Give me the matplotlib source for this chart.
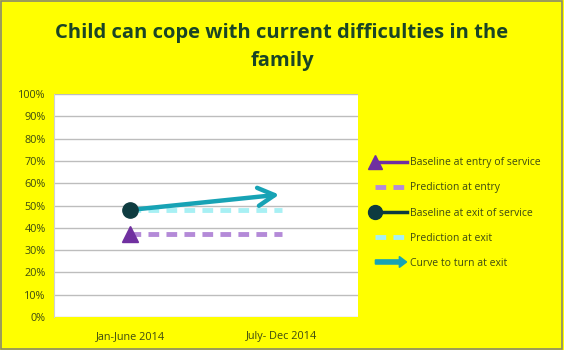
import matplotlib.pyplot as plt
from matplotlib.lines import Line2D
from matplotlib.patches import FancyArrow
from matplotlib.legend_handler import HandlerPatch
from matplotlib.ticker import PercentFormatter

categories = ['Jan-June 2014', 'July- Dec 2014']
baseline_entry = [0.37]
prediction_entry = [0.37, 0.37]
baseline_exit = [0.48]
prediction_exit = [0.48, 0.48]
curve_exit = [0.48, 0.55]

yellow = '#ffff00'
text_green = '#3d4a12'
title_green = '#1a4526'
c_entry = '#7030a0'
c_pred_entry = '#b48ad8'
c_exit = '#0e3b40'
c_pred_exit = '#a8f0f4'
c_curve = '#17a3b5'

plt.rcParams['font.family'] = ['Open Sans', 'DejaVu Sans']

fig = plt.figure(figsize=(5.64, 3.5), dpi=100, facecolor=yellow)
fig.patches.append(plt.Rectangle((0.002, 0.003), 0.995, 0.994, transform=fig.transFigure,
                                 fill=False, edgecolor='#8a8a6a', lw=1.2))
ax = fig.add_axes([54 / 564, 1 - 317 / 350, 304 / 564, 223 / 350])
ax.set_facecolor('white')

x = list(range(len(categories)))
ax.plot(x, prediction_entry, color=c_pred_entry, lw=3.5, ls=(0, (2.2, 1.5)), zorder=2)
ax.plot(x, prediction_exit, color=c_pred_exit, lw=3.5, ls=(0, (2.2, 1.5)), zorder=2)
ax.annotate('', xy=(x[1], curve_exit[1]), xytext=(x[0], curve_exit[0]),
            arrowprops=dict(arrowstyle='->,head_length=1.2,head_width=0.65',
                            color=c_curve, lw=3.2), zorder=3)
ax.plot(x[:1], baseline_entry, marker='^', ms=11, color=c_entry, ls='none', zorder=4)
ax.plot(x[:1], baseline_exit, marker='o', ms=11, color=c_exit, ls='none', zorder=4)

ax.set_xlim(-0.5, 1.5)
ax.set_ylim(0, 1)
ax.set_yticks([i / 10 for i in range(11)])
ax.yaxis.set_major_formatter(PercentFormatter(1.0, decimals=0))
ax.set_xticks(x)
ax.set_xticklabels(categories)
ax.grid(axis='y', color='#bdbdbd', lw=1)
ax.set_axisbelow(True)
ax.tick_params(length=0, labelsize=7.8, colors=text_green, pad=6)
ax.tick_params(axis='x', pad=10)
for s in ax.spines.values():
    s.set_visible(False)
ax.spines['left'].set_visible(True)
ax.spines['left'].set_color('#d0d0d0')

fig.text(0.5, 1 - 47 / 350, 'Child can cope with current difficulties in the\nfamily',
         ha='center', va='center', fontsize=14.5, fontweight='bold', color=title_green,
         linespacing=1.5)


def make_arrow(legend, orig_handle, xdescent, ydescent, width, height, fontsize):
    return FancyArrow(0, height / 2, width, 0, width=3, head_width=height * 1.5,
                      head_length=height * 1.0, length_includes_head=True,
                      color=c_curve)


handles = [
    Line2D([], [], color=c_entry, lw=2.5, marker='^', ms=10, markevery=[0]),
    Line2D([], [], color=c_pred_entry, lw=3.5, ls=(0, (2.2, 1.5))),
    Line2D([], [], color=c_exit, lw=2.5, marker='o', ms=10, markevery=[0]),
    Line2D([], [], color=c_pred_exit, lw=3.5, ls=(0, (2.2, 1.5))),
    FancyArrow(0, 0, 1, 0, color=c_curve),
]
labels = ['Baseline at entry of service', 'Prediction at entry',
          'Baseline at exit of service', 'Prediction at exit', 'Curve to turn at exit']
leg = fig.legend(handles, labels, loc='center left', bbox_to_anchor=(366 / 564, 1 - 213 / 350),
                 frameon=False, fontsize=7.5, labelcolor=text_green, handlelength=3.0,
                 handletextpad=0.3, labelspacing=1.35,
                 handler_map={FancyArrow: HandlerPatch(patch_func=make_arrow)})
for line in leg.get_lines():
    line.set_markevery([0])

fig.savefig('out.png', dpi=100, facecolor=yellow)
